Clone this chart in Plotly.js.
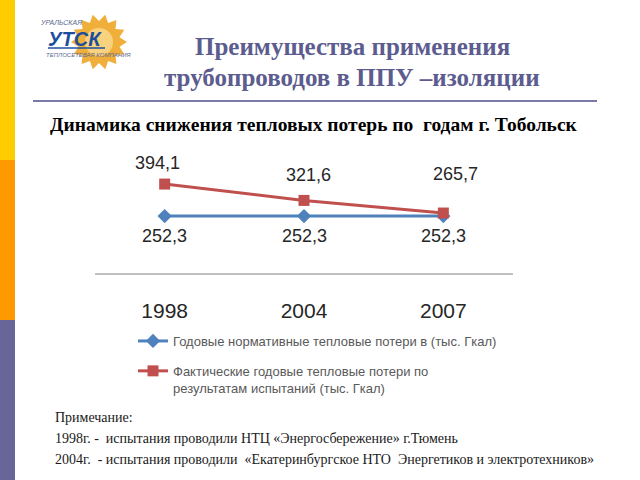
<!DOCTYPE html>
<html>
<head>
<meta charset="utf-8">
<script src="https://cdn.plot.ly/plotly-3.0.1.min.js"></script>
<style>html,body{margin:0;padding:0;background:#fff}#chart{width:640px;height:480px}</style>
</head>
<body>
<div id="chart"></div>
<script>
// ---- data ----
const years = ['1998', '2004', '2007'];
const normativeLosses = [252.3, 252.3, 252.3];
const actualLosses = [394.1, 321.6, 265.7];
const normativeName = 'Годовые нормативные тепловые потери в (тыс. Гкал)';
const actualName = 'Фактические годовые тепловые потери по<br>результатам испытаний (тыс. Гкал)';
const titleLines = ['Преимущества применения', 'трубопроводов в ППУ –изоляции'];
const subtitle = 'Динамика снижения тепловых потерь по  годам г. Тобольск';
const noteLines = [
  'Примечание:',
  '1998г. -  испытания проводили НТЦ «Энергосбережение» г.Тюмень',
  '2004г.  - испытания проводили  «Екатеринбургское НТО  Энергетиков и электротехников»'
];

// ---- layout geometry ----
const W = 640, H = 480;
const M = {l: 95, r: 127, t: 150, b: 207};
const PW = W - M.l - M.r, PH = H - M.t - M.b;
const fx = px => (px - M.l) / PW;
const fy = py => (H - M.b - py) / PH;
const fmt = v => v.toFixed(1).replace('.', ',');

const blue = '#4F81BD', red = '#C0504D', titleColor = '#5C5C8F';
const sans = 'Liberation Sans, Arial, sans-serif';
const serif = 'Liberation Serif, Times New Roman, serif';

const traces = [
  {
    x: years, y: normativeLosses, name: normativeName, type: 'scatter',
    mode: 'lines+markers', legendgroup: 'a',
    line: {color: blue, width: 3},
    marker: {symbol: 'diamond', size: 11, color: blue},
    cliponaxis: false
  },
  {
    x: years, y: actualLosses, name: actualName, type: 'scatter',
    mode: 'lines+markers', legendgroup: 'b',
    line: {color: red, width: 3},
    marker: {symbol: 'square', size: 11, color: red},
    cliponaxis: false
  }
];

// value labels
const redShiftY = [21, 25, 39];
const redShiftX = [-7, 4, 12];
const annotations = actualLosses.map((v, i) => ({
  x: i, y: v, xref: 'x', yref: 'y', text: fmt(v), showarrow: false,
  xanchor: 'center', yanchor: 'middle',
  yshift: redShiftY[i], xshift: redShiftX[i],
  font: {family: sans, size: 18, color: '#262626'}
}));
normativeLosses.forEach((v, i) => annotations.push({
  x: i, y: v, xref: 'x', yref: 'y', text: fmt(v), showarrow: false,
  xanchor: 'center', yanchor: 'middle',
  yshift: -20, xshift: 0,
  font: {family: sans, size: 18, color: '#262626'}
}));

const txt = (px, py, text, font, xanchor) => ({
  xref: 'paper', yref: 'paper', x: fx(px), y: fy(py), text: text, showarrow: false,
  xanchor: xanchor || 'center', yanchor: 'middle', font: font, borderpad: 0
});

annotations.push(
  txt(352, 46, titleLines[0], {family: serif, size: 25, weight: 'bold', color: titleColor}),
  txt(352, 77, titleLines[1], {family: serif, size: 25, weight: 'bold', color: titleColor}),
  txt(314, 125, subtitle, {family: serif, size: 19.5, weight: 'bold', color: '#000000'})
);
const noteY = [417, 438, 459];
noteLines.forEach((t, i) => annotations.push(
  txt(54, noteY[i], t, {family: serif, size: 14, color: '#1a1a1a'}, 'left')
));
// logo text
annotations.push(
  txt(39, 22, '<i>УРАЛЬСКАЯ</i>', {family: sans, size: 7, color: '#5a6a90'}, 'left'),
  txt(47, 39, '<i>УТСК</i>', {family: sans, size: 20, weight: 'bold', color: '#1D4E9E'}, 'left'),
  txt(45, 55, '<i>ТЕПЛОСЕТЕВАЯ КОМПАНИЯ</i>', {family: sans, size: 6, color: '#5a6a90'}, 'left')
);

// logo sun (decorative star polygon)
const sunCx = 99, sunCy = 42, rOut = 28, rIn = 21, nRays = 14;
let sunPath = '';
for (let k = 0; k < nRays * 2; k++) {
  const r = k % 2 === 0 ? rOut : rIn;
  const a = Math.PI * k / nRays;
  const px = sunCx + r * Math.cos(a), py = sunCy + r * Math.sin(a);
  sunPath += (k === 0 ? 'M' : 'L') + fx(px) + ',' + fy(py);
}
sunPath += 'Z';

const shapes = [
  {type: 'rect', xref: 'paper', yref: 'paper', x0: fx(0), x1: fx(15), y0: fy(0), y1: fy(160), fillcolor: '#FFCC00', line: {width: 0}, layer: 'below'},
  {type: 'rect', xref: 'paper', yref: 'paper', x0: fx(0), x1: fx(15), y0: fy(160), y1: fy(320), fillcolor: '#FF9900', line: {width: 0}, layer: 'below'},
  {type: 'rect', xref: 'paper', yref: 'paper', x0: fx(0), x1: fx(15), y0: fy(320), y1: fy(480), fillcolor: '#666699', line: {width: 0}, layer: 'below'},
  {type: 'line', xref: 'paper', yref: 'paper', x0: fx(33), x1: fx(597), y0: fy(101), y1: fy(101), line: {color: '#7A7AA8', width: 2}},
  {type: 'path', xref: 'paper', yref: 'paper', path: sunPath, fillcolor: '#F0AE3A', line: {width: 0}, layer: 'below'},
  {type: 'circle', xref: 'paper', yref: 'paper', x0: fx(85), x1: fx(113), y0: fy(28), y1: fy(56), fillcolor: '#F8D27E', line: {width: 0}, layer: 'below'},
  {type: 'line', xref: 'paper', yref: 'paper', x0: fx(48), x1: fx(105), y0: fy(48), y1: fy(48), line: {color: '#1D4E9E', width: 1.5}}
];

const layout = {
  width: W, height: H,
  margin: {l: M.l, r: M.r, t: M.t, b: M.b, pad: 0, autoexpand: false},
  paper_bgcolor: '#ffffff', plot_bgcolor: '#ffffff',
  showlegend: true,
  xaxis: {
    type: 'category', range: [-0.5, 2.5], showgrid: false, zeroline: false,
    showline: true, linecolor: '#BFBFBF', linewidth: 1.5, ticks: 'outside',
    ticklen: 18, tickcolor: 'rgba(0,0,0,0)', automargin: false,
    tickfont: {family: sans, size: 21, color: '#262626'}
  },
  yaxis: {range: [0, 545], visible: false, showgrid: false, zeroline: false, automargin: false},
  legend: {
    x: fx(133), y: fy(326),
    xanchor: 'left', yanchor: 'top', traceorder: 'grouped', tracegroupgap: 10,
    valign: 'top', bgcolor: 'rgba(0,0,0,0)',
    font: {family: sans, size: 13, color: '#595959'}
  },
  annotations: annotations,
  shapes: shapes
};

Plotly.newPlot('chart', traces, layout, {displayModeBar: false, staticPlot: true})
  .catch(e => { document.body.insertAdjacentHTML('beforeend', '<pre>' + e + '</pre>'); });
</script>
</body>
</html>
